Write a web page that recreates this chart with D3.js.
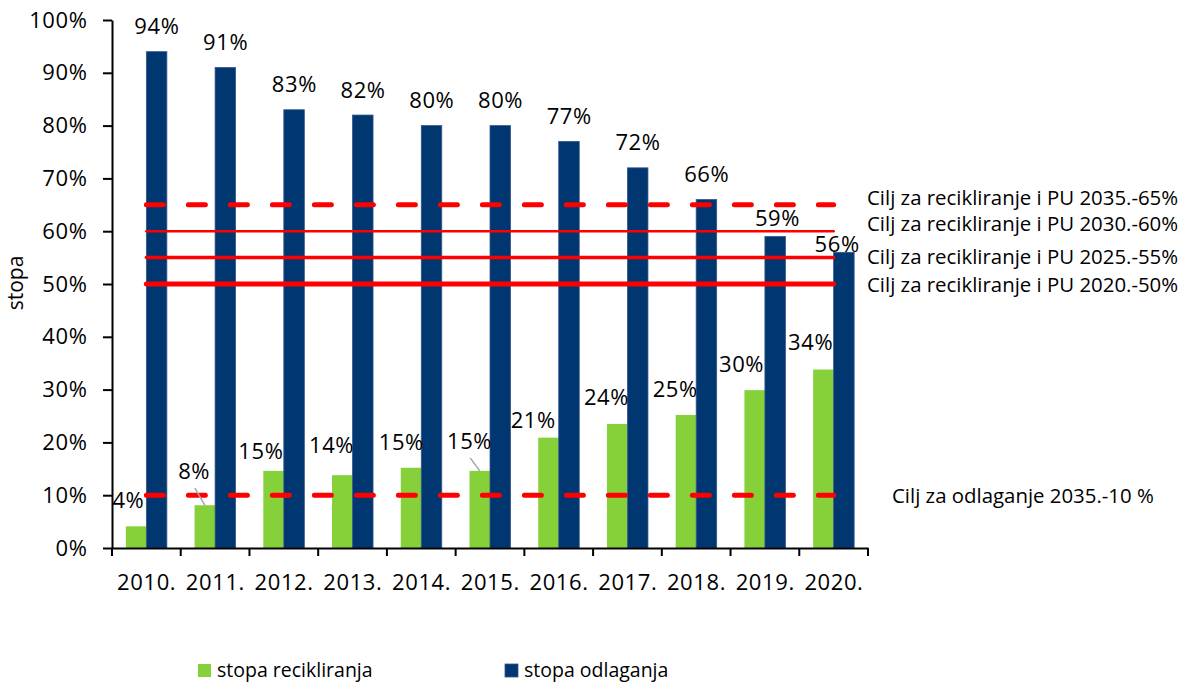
<!DOCTYPE html>
<html><head><meta charset="utf-8">
<script src="https://cdn.jsdelivr.net/npm/d3@7"></script>
<style>
body{margin:0;background:#fff}
text{font-family:"Open Sans","Noto Sans",sans-serif;fill:#000}
.num{letter-spacing:0.6px}
</style>
</head><body>
<svg id="chart" width="1188" height="686"></svg>
<script>
// ---- data ----
const years = ["2010.","2011.","2012.","2013.","2014.","2015.","2016.","2017.","2018.","2019.","2020."];
const recyclingRate = [4.1, 8.1, 14.6, 13.8, 15.2, 14.6, 20.9, 23.5, 25.2, 29.9, 33.8];
const disposalRate  = [94, 91, 83, 82, 80, 80, 77, 72, 66, 59, 56];
const yTicks = [0,10,20,30,40,50,60,70,80,90,100];
const seriesNames = ["stopa recikliranja","stopa odlaganja"];
const targetValues = [65, 60, 55, 50, 10];
const targetLabels = [
  "Cilj za recikliranje i PU 2035.-65%",
  "Cilj za recikliranje i PU 2030.-60%",
  "Cilj za recikliranje i PU 2025.-55%",
  "Cilj za recikliranje i PU 2020.-50%",
  "Cilj za odlaganje 2035.-10 %"
];
const yTitle = "stopa";

// ---- layout / style ----
const plot = {left:112, right:868, top:20, bottom:548};
const colors = {rec:"#86D03A", disp:"#003770", red:"#FF0000"};
const targetStyle = [
  {w:5, dash:"17 25", lx:867, ldy:0},
  {w:2.5, dash:null, lx:867, ldy:0},
  {w:3.5, dash:null, lx:867, ldy:6},
  {w:5, dash:null, lx:867, ldy:8},
  {w:5, dash:"17 25", lx:892, ldy:8}
];
const recLabelOff = [[-8,-18],[-11,-26],[-13,-12],[-11,-22],[-10,-18],[-10.5,-22],[-15.5,-10],[-11,-19],[-11,-18],[-13.4,-18.6],[-13,-20]];
const dispLabelOff = years.map((d,i)=> i===9 ? [2,-10] : i===10 ? [-7,0] : [0,-17.5]);
const leaderIdx = [1,5];
const FS = 22;
const LS = 0.3; // half of letter-spacing, to re-centre middle-anchored numbers

const svg = d3.select("#chart");

const x = d3.scaleBand().domain(years).range([plot.left, plot.right]).padding(0);
const xi = d3.scaleBand().domain(["rec","disp"]).range([0, x.bandwidth()]).paddingInner(0).paddingOuter(0.676);
const y = d3.scaleLinear().domain([0,100]).range([plot.bottom, plot.top]);

// bars
const g = svg.append("g");
g.selectAll("rect.rec").data(recyclingRate).join("rect")
  .attr("x",(d,i)=>x(years[i])+xi("rec")).attr("width",xi.bandwidth())
  .attr("y",d=>y(d)).attr("height",d=>y(0)-y(d)).attr("fill",colors.rec);
g.selectAll("rect.disp").data(disposalRate).join("rect")
  .attr("x",(d,i)=>x(years[i])+xi("disp")).attr("width",xi.bandwidth())
  .attr("y",d=>y(d)).attr("height",d=>y(0)-y(d)).attr("fill",colors.disp)
  .attr("stroke","#34558a").attr("stroke-width",0.8);

// target lines
const xStart = x(years[0]) + x.bandwidth()/2;
const xEnd = x(years[years.length-1]) + x.bandwidth()/2;
targetValues.forEach((v,i)=>{
  const s = targetStyle[i];
  svg.append("line").attr("x1",xStart).attr("x2",xEnd).attr("y1",y(v)).attr("y2",y(v))
    .attr("stroke",colors.red).attr("stroke-width",s.w).attr("stroke-linecap","round")
    .attr("stroke-dasharray",s.dash);
  svg.append("text").attr("x",s.lx).attr("y",y(v)+s.ldy).attr("font-size",20.4)
    .text(targetLabels[i]);
});

// leader lines
leaderIdx.forEach(i=>{
  const cx = x(years[i])+xi("rec")+xi.bandwidth()/2;
  const lx = cx + recLabelOff[i][0];
  const by = y(recyclingRate[i]) + recLabelOff[i][1];
  svg.append("line").attr("x1",lx+1).attr("y1",by+9).attr("x2",cx).attr("y2",y(recyclingRate[i]))
    .attr("stroke","#A6A6A6").attr("stroke-width",1.5);
});

// data labels
svg.selectAll("text.rl").data(recyclingRate).join("text").attr("class","num")
  .attr("x",(d,i)=>x(years[i])+xi("rec")+xi.bandwidth()/2+recLabelOff[i][0]+LS)
  .attr("y",(d,i)=>y(d)+recLabelOff[i][1])
  .attr("text-anchor","middle").attr("font-size",FS)
  .text(d=>Math.round(d)+"%");
svg.selectAll("text.dl").data(disposalRate).join("text").attr("class","num")
  .attr("x",(d,i)=>x(years[i])+xi("disp")+xi.bandwidth()/2+dispLabelOff[i][0]+LS)
  .attr("y",(d,i)=>y(d)+dispLabelOff[i][1])
  .attr("text-anchor","middle").attr("font-size",FS)
  .text(d=>Math.round(d)+"%");

// y axis
const ya = svg.append("g").attr("transform",`translate(${plot.left},0)`)
  .call(d3.axisLeft(y).tickValues(yTicks).tickFormat(d=>d+"%").tickSize(9).tickPadding(15.5).tickSizeOuter(0));
ya.select(".domain").attr("stroke","#000").attr("stroke-width",2);
ya.selectAll(".tick line").attr("stroke","#000").attr("stroke-width",2);
ya.selectAll("text").attr("class","num").attr("font-size",FS).attr("font-family",null);

// x axis
const xa = svg.append("g").attr("transform",`translate(0,${plot.bottom})`)
  .call(d3.axisBottom(x).tickSize(0).tickPadding(26).tickSizeOuter(0));
xa.select(".domain").attr("stroke","#000").attr("stroke-width",2);
xa.selectAll("text").attr("class","num").attr("font-size",FS).attr("font-family",null).attr("dx",LS);
const bounds = years.map(d=>x(d)).concat([plot.right]);
xa.selectAll("line.bt").data(bounds).join("line").attr("class","bt")
  .attr("x1",d=>d).attr("x2",d=>d).attr("y1",0).attr("y2",8)
  .attr("stroke","#000").attr("stroke-width",2);

// y title
svg.append("text").attr("transform","translate(23,283) rotate(-90)")
  .attr("text-anchor","middle").attr("font-size",21).text(yTitle);

// legend
const legend = [{x:198, c:colors.rec},{x:505, c:colors.disp}];
legend.forEach((l,i)=>{
  svg.append("rect").attr("x",l.x).attr("y",664).attr("width",13).attr("height",13).attr("fill",l.c)
    .attr("stroke", i===1 ? "#34558a" : null).attr("stroke-width",0.8);
  svg.append("text").attr("x",l.x+19).attr("y",677).attr("font-size",19.5).text(seriesNames[i]);
});
</script>
</body></html>
